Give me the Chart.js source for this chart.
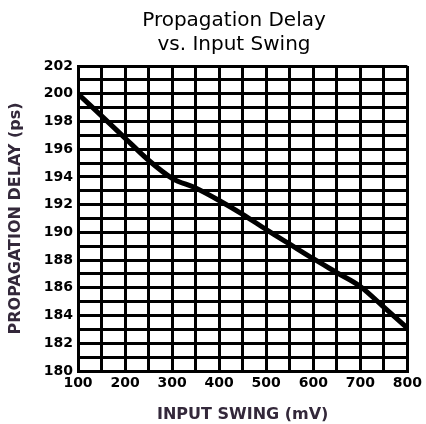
<!DOCTYPE html>
<html>
<head>
<meta charset="utf-8">
<script src="https://cdn.jsdelivr.net/npm/chart.js@4/dist/chart.umd.min.js"></script>
<style>
html,body{margin:0;padding:0;background:#fff;}
#wrap{width:426px;height:424px;position:relative;}
</style>
</head>
<body>
<div id="wrap"><canvas id="c" width="426" height="424"></canvas></div>
<script>
const titleLines = ['Propagation Delay', 'vs. Input Swing'];
const xTitle = 'INPUT SWING (mV)';
const yTitle = 'PROPAGATION DELAY (ps)';
const inputSwing = [100, 150, 200, 250, 300, 350, 400, 450, 500, 550, 600, 650, 700, 750, 800];
const delay = [200.0, 198.4, 196.8, 195.2, 193.9, 193.2, 192.3, 191.3, 190.2, 189.15, 188.1, 187.1, 186.1, 184.6, 183.1];
const xTickLabels = ['100', '200', '300', '400', '500', '600', '700', '800'];
const yTickLabels = ['180', '182', '184', '186', '188', '190', '192', '194', '196', '198', '200', '202'];

const titlePlugin = {
  id: 'twoLineTitle',
  afterDraw(chart) {
    const ctx = chart.ctx;
    ctx.save();
    ctx.fillStyle = '#000';
    ctx.font = '20px "DejaVu Sans"';
    ctx.textAlign = 'center';
    ctx.textBaseline = 'middle';
    ctx.fillText(titleLines[0], 234, 21);
    ctx.fillText(titleLines[1], 234, 45);
    ctx.restore();
  }
};

new Chart(document.getElementById('c'), {
  type: 'line',
  data: {
    datasets: [{
      data: inputSwing.map((x, i) => ({x: x, y: delay[i]})),
      borderColor: '#000',
      borderWidth: 5,
      pointRadius: 0,
      cubicInterpolationMode: 'monotone',
      fill: false
    }]
  },
  options: {
    responsive: false,
    animation: false,
    layout: {padding: {left: 0, right: 18, top: 66, bottom: 0}},
    plugins: {legend: {display: false}, title: {display: false}, tooltip: {enabled: false}},
    scales: {
      x: {
        type: 'linear',
        min: 100, max: 800,
        afterFit(s) { s.height = 53; },
        border: {color: '#000', width: 3},
        grid: {color: '#000', lineWidth: 3, drawTicks: false},
        ticks: {
          stepSize: 50, padding: 4, color: '#000', maxRotation: 0, autoSkip: false,
          font: {family: 'DejaVu Sans', size: 14, weight: 'bold'},
          callback: (v) => xTickLabels.includes(String(v)) ? String(v) : ''
        },
        title: {display: true, text: xTitle, color: '#33283a', padding: {top: 0, bottom: 0},
          font: {family: 'DejaVu Sans', size: 16, weight: 'bold'}}
      },
      y: {
        type: 'linear',
        min: 180, max: 202,
        afterFit(s) { s.width = 78; },
        border: {color: '#000', width: 3},
        grid: {color: '#000', lineWidth: 3, drawTicks: false},
        ticks: {
          stepSize: 1, padding: 5, color: '#000', autoSkip: false,
          font: {family: 'DejaVu Sans', size: 14, weight: 'bold'},
          callback: (v) => yTickLabels.includes(String(v)) ? String(v) : ''
        },
        title: {display: true, text: yTitle, color: '#33283a', padding: {top: 6, bottom: 0},
          font: {family: 'DejaVu Sans', size: 16, weight: 'bold'}}
      }
    }
  },
  plugins: [titlePlugin]
});
</script>
</body>
</html>
